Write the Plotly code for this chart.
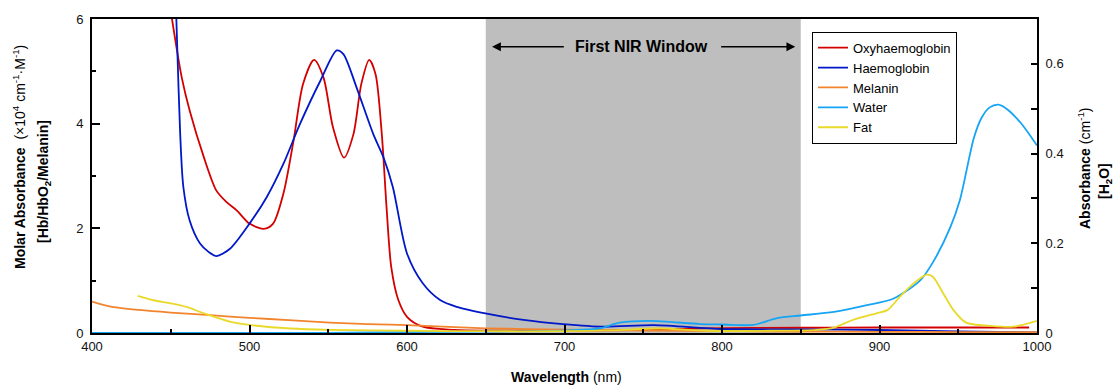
import plotly.graph_objects as go

# ---------------- data ----------------
oxy_wl = [440, 446, 451, 457, 462, 471, 479, 485.5, 492, 500, 509, 515, 521.5, 528, 534, 541, 547, 553, 560,
          566, 571, 576, 580, 584, 587, 590, 594.5, 600, 610, 630, 650, 700, 757, 788, 850, 900, 950, 995]
oxy_val = [8.5, 7.0, 5.96, 4.88, 4.25, 3.36, 2.72, 2.50, 2.34, 2.09, 1.99, 2.09, 2.66, 3.68, 4.76, 5.22, 4.88, 3.93, 3.35,
           3.80, 4.76, 5.22, 4.95, 3.80, 2.41, 1.26, 0.63, 0.31, 0.12, 0.06, 0.045, 0.045, 0.06, 0.09, 0.10, 0.105, 0.105, 0.105]

hb_wl = [448, 452, 454.2, 456, 458, 462, 468.6, 474, 479, 487.6, 500, 511, 521.5, 532, 545, 555.4, 559.6, 568,
         578.6, 585, 591, 600, 610, 621, 631.5, 650.6, 674, 699, 725, 757, 800, 850, 900, 950, 1000]
hb_val = [12, 7.5, 5.39, 3.80, 2.79, 2.15, 1.71, 1.55, 1.47, 1.61, 2.09, 2.60, 3.23, 3.99, 4.82, 5.40, 5.33, 4.69,
          3.80, 3.36, 2.79, 1.52, 0.95, 0.63, 0.50, 0.37, 0.25, 0.17, 0.12, 0.15, 0.076, 0.07, 0.057, 0.03, 0.01]

mel_wl = [400, 411, 430, 450, 475, 500, 525, 551, 575, 600, 650, 700, 750, 800, 850, 900, 950, 1000]
mel_val = [0.60, 0.51, 0.44, 0.39, 0.34, 0.29, 0.245, 0.20, 0.17, 0.15, 0.09, 0.065, 0.045, 0.035, 0.028, 0.022, 0.018, 0.015]

water_wl = [400, 450, 500, 550, 600, 650, 700, 722, 735, 754, 786, 800, 820, 835, 850, 871, 892, 909, 926, 934,
            945, 951, 960, 965, 970, 975.5, 981, 990, 1000]
water_val = [0.0003, 0.0002, 0.0003, 0.0005, 0.002, 0.003, 0.006, 0.010, 0.023, 0.027, 0.020, 0.019, 0.018, 0.033,
             0.039, 0.047, 0.062, 0.077, 0.118, 0.158, 0.236, 0.296, 0.436, 0.481, 0.503, 0.509, 0.499, 0.467, 0.418]

fat_wl = [429, 439, 450, 460, 471, 488, 500, 526, 551, 600, 650, 700, 730, 760, 790, 830, 860, 871, 883, 898, 905,
          913, 921.5, 930, 934, 940.5, 947, 955, 970, 985, 1000]
fat_val = [0.083, 0.073, 0.066, 0.058, 0.044, 0.025, 0.018, 0.010, 0.007, 0.005, 0.004, 0.004, 0.006, 0.010, 0.005,
           0.005, 0.007, 0.012, 0.029, 0.044, 0.051, 0.081, 0.110, 0.130, 0.125, 0.088, 0.051, 0.023, 0.016, 0.014, 0.027]

x_ticks = [400, 500, 600, 700, 800, 900, 1000]
y_ticks = [0, 2, 4, 6]
y2_ticks = [0, 0.1, 0.2, 0.3, 0.4, 0.5, 0.6]
y2_labels = ["0", "", "0.2", "", "0.4", "", "0.6"]

window = [650, 850]

FONT = "Liberation Sans, Arial, sans-serif"

# ---------------- figure ----------------
fig = go.Figure()
series = [
    ("Oxyhaemoglobin", oxy_wl, oxy_val, "#D40000", "y"),
    ("Haemoglobin", hb_wl, hb_val, "#0018C8", "y"),
    ("Melanin", mel_wl, mel_val, "#F2842E", "y"),
    ("Water", water_wl, water_val, "#16A4F5", "y2"),
    ("Fat", fat_wl, fat_val, "#E8D92A", "y2"),
]
for name, xs, ys, col, ax in series:
    fig.add_trace(go.Scatter(x=xs, y=ys, name=name, mode="lines", yaxis=ax,
                             line=dict(color=col, width=1.8, shape="spline", smoothing=0.8)))

fig.add_shape(type="rect", xref="x", yref="paper", x0=window[0], x1=window[1], y0=0, y1=1,
              fillcolor="#BEBEBE", line=dict(width=0), layer="below")

# arrows
arrow_y = 5.47
for head, tail in [(654, 700.5), (846.5, 798.5)]:
    fig.add_annotation(x=head, y=arrow_y, ax=tail, ay=arrow_y, xref="x", yref="y", axref="x", ayref="y",
                       text="", showarrow=True, arrowhead=2, arrowsize=1.1, arrowwidth=1.6, arrowcolor="black")
fig.add_annotation(x=748.6, y=arrow_y, xref="x", yref="y", text="<b>First NIR Window</b>", showarrow=False,
                   font=dict(family=FONT, size=16, color="black"), xanchor="center", yanchor="middle")

# axis titles as annotations
def px2paper(px, py):
    return (px - 92) / 945, (333 - py) / 314

tf = dict(family=FONT, size=14, color="black")
for txt, px, py, ang in [
    ("<b>Molar Absorbance</b>  (×10<sup>4</sup> cm<sup>-1</sup>·M<sup>-1</sup>)", 19, 157, -90),
    ("<b>[Hb/HbO<sub>2</sub>/Melanin]</b>", 44, 182, -90),
    ("<b>Absorbance</b> (cm<sup>-1</sup>)", 1084, 168, -90),
    ("<b>[H<sub>2</sub>O]</b>", 1105, 181, -90),
    ("<b>Wavelength</b> (nm)", 566, 377, 0),
]:
    xp, yp = px2paper(px, py)
    fig.add_annotation(x=xp, y=yp, xref="paper", yref="paper", text=txt, showarrow=False, textangle=ang,
                       font=tf, xanchor="center", yanchor="middle")

tickfont = dict(family=FONT, size=13, color="#111")
fig.update_layout(
    width=1115, height=387,
    margin=dict(l=92, r=78, t=19, b=54),
    plot_bgcolor="white", paper_bgcolor="white",
    showlegend=True,
    legend=dict(x=(812 - 92) / 945, y=(333 - 31.7) / 314, xanchor="left", yanchor="top",
                bgcolor="white", bordercolor="black", borderwidth=1,
                font=dict(family=FONT, size=13, color="black"), tracegroupgap=0),
    xaxis=dict(range=[400, 1000], tickvals=x_ticks, ticks="inside", ticklen=8, tickwidth=1.5, tickcolor="black",
               showline=True, linecolor="black", linewidth=2, mirror=True, showgrid=False, zeroline=False,
               tickfont=tickfont, minor=dict(dtick=50, ticks="inside", ticklen=4, tickwidth=1.5, tickcolor="black")),
    yaxis=dict(range=[0, 6], tickvals=y_ticks, ticks="inside", ticklen=8, tickwidth=1.5, tickcolor="black",
               showline=True, linecolor="black", linewidth=2, showgrid=False, zeroline=False,
               tickfont=tickfont, ticklabelstandoff=4,
               minor=dict(dtick=1, ticks="inside", ticklen=4, tickwidth=1.5, tickcolor="black")),
    yaxis2=dict(range=[0, 0.7], overlaying="y", side="right", tickvals=y2_ticks, ticktext=y2_labels,
                ticks="inside", ticklen=6, tickwidth=1.5, tickcolor="black",
                showline=True, linecolor="black", linewidth=2, showgrid=False, zeroline=False,
                tickfont=tickfont, ticklabelstandoff=4),
)

fig.write_html("out.html")
